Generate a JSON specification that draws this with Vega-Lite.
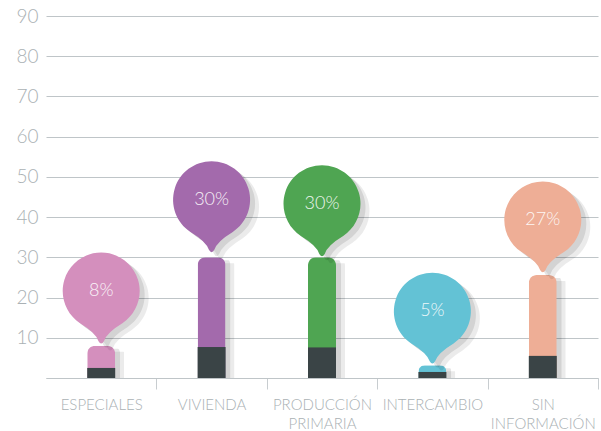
{
  "$schema": "https://vega.github.io/schema/vega-lite/v6.json",
  "width": 552,
  "height": 362,
  "autosize": {"type": "none"},
  "padding": {"left": 46, "top": 16, "right": 3, "bottom": 53},
  "background": "white",
  "config": {"view": {"stroke": null}, "font": "Lato"},
  "data": {
    "values": [
      {"cat": "ESPECIALES", "total": 8, "base": 2.5, "bubble": 21.6, "pct": "8%"},
      {"cat": "VIVIENDA", "total": 30, "base": 7.7, "bubble": 44.3, "pct": "30%"},
      {"cat": "PRODUCCIÓN|PRIMARIA", "total": 30, "base": 7.6, "bubble": 43.3, "pct": "30%"},
      {"cat": "INTERCAMBIO", "total": 3.2, "base": 1.5, "bubble": 16.6, "pct": "5%"},
      {"cat": "SIN|INFORMACIÓN", "total": 25.6, "base": 5.5, "bubble": 39.3, "pct": "27%"}
    ]
  },
  "encoding": {
    "x": {
      "field": "cat", "type": "nominal", "sort": null,
      "scale": {"paddingInner": 0, "paddingOuter": 0},
      "axis": {
        "title": null, "labelAngle": 0, "labelExpr": "split(datum.label, '|')",
        "labelFontSize": 15, "labelColor": "#aab1b4", "labelFont": "Lato", "labelFontWeight": 300,
        "labelLineHeight": 19, "labelPadding": 8, "labelBaseline": "top",
        "domain": true, "domainColor": "#bfc5c8", "domainWidth": 1.2,
        "ticks": true, "tickSize": 11, "tickColor": "#c8cdd0", "tickWidth": 1,
        "tickOffset": 55.2, "labelOffset": -55.2, "grid": false
      }
    }
  },
  "layer": [
    {
      "mark": {"type": "rule", "color": "transparent"},
      "encoding": {
        "y": {
          "field": "total", "type": "quantitative",
          "scale": {"domain": [0, 90], "nice": false, "zero": true},
          "axis": {
            "title": null, "values": [0, 10, 20, 30, 40, 50, 60, 70, 80, 90],
            "labelExpr": "datum.value == 0 ? '' : datum.label",
            "labelFontSize": 19, "labelColor": "#aab1b4", "labelFont": "Lato", "labelFontWeight": 300,
            "labelPadding": 8, "ticks": false, "domain": false,
            "grid": true, "gridColor": "#bfc5c8", "gridWidth": 1.2
          }
        }
      }
    },
    {
      "mark": {"type": "bar", "size": 28, "color": "#000", "opacity": 0.1, "xOffset": 5, "yOffset": 3, "cornerRadiusTopLeft": 8, "cornerRadiusTopRight": 8},
      "encoding": {"y": {"field": "total", "type": "quantitative"}}
    },
    {
      "mark": {"type": "bar", "size": 28, "color": "#000", "opacity": 0.08, "xOffset": 9, "yOffset": 6, "cornerRadiusTopLeft": 8, "cornerRadiusTopRight": 8},
      "encoding": {"y": {"field": "total", "type": "quantitative"}}
    },
    {
      "mark": {"type": "bar", "size": 28, "cornerRadiusTopLeft": 8, "cornerRadiusTopRight": 8},
      "encoding": {
        "y": {"field": "total", "type": "quantitative"},
        "color": {
          "field": "cat", "type": "nominal", "legend": null,
          "scale": {
            "domain": ["ESPECIALES", "VIVIENDA", "PRODUCCIÓN|PRIMARIA", "INTERCAMBIO", "SIN|INFORMACIÓN"],
            "range": ["#d48fbd", "#a36aac", "#4fa552", "#63c2d5", "#eeae96"]
          }
        }
      }
    },
    {
      "mark": {"type": "bar", "size": 28, "color": "#3a4446"},
      "encoding": {"y": {"field": "base", "type": "quantitative"}}
    },
    {
      "mark": {"type": "point", "filled": true, "size": 5929, "color": "#000", "opacity": 0.1, "xOffset": 5, "yOffset": 4,
        "shape": "M -0.55,0.835 A 1,1 0 1,1 0.55,0.835 Q 0.14,1.08 0.07,1.3 Q 0,1.42 -0.07,1.3 Q -0.14,1.08 -0.55,0.835 Z"},
      "encoding": {"y": {"field": "bubble", "type": "quantitative"}}
    },
    {
      "mark": {"type": "point", "filled": true, "size": 5929, "color": "#000", "opacity": 0.08, "xOffset": 9, "yOffset": 7,
        "shape": "M -0.55,0.835 A 1,1 0 1,1 0.55,0.835 Q 0.14,1.08 0.07,1.3 Q 0,1.42 -0.07,1.3 Q -0.14,1.08 -0.55,0.835 Z"},
      "encoding": {"y": {"field": "bubble", "type": "quantitative"}}
    },
    {
      "mark": {"type": "point", "filled": true, "size": 5929, "opacity": 1,
        "shape": "M -0.55,0.835 A 1,1 0 1,1 0.55,0.835 Q 0.14,1.08 0.07,1.3 Q 0,1.42 -0.07,1.3 Q -0.14,1.08 -0.55,0.835 Z"},
      "encoding": {
        "y": {"field": "bubble", "type": "quantitative"},
        "color": {"field": "cat", "type": "nominal", "legend": null}
      }
    },
    {
      "mark": {"type": "text", "fontSize": 18, "font": "Lato", "fontWeight": 300, "color": "#ffffff", "opacity": 0.9, "baseline": "middle", "align": "center"},
      "encoding": {
        "y": {"field": "bubble", "type": "quantitative"},
        "text": {"field": "pct"}
      }
    }
  ]
}
